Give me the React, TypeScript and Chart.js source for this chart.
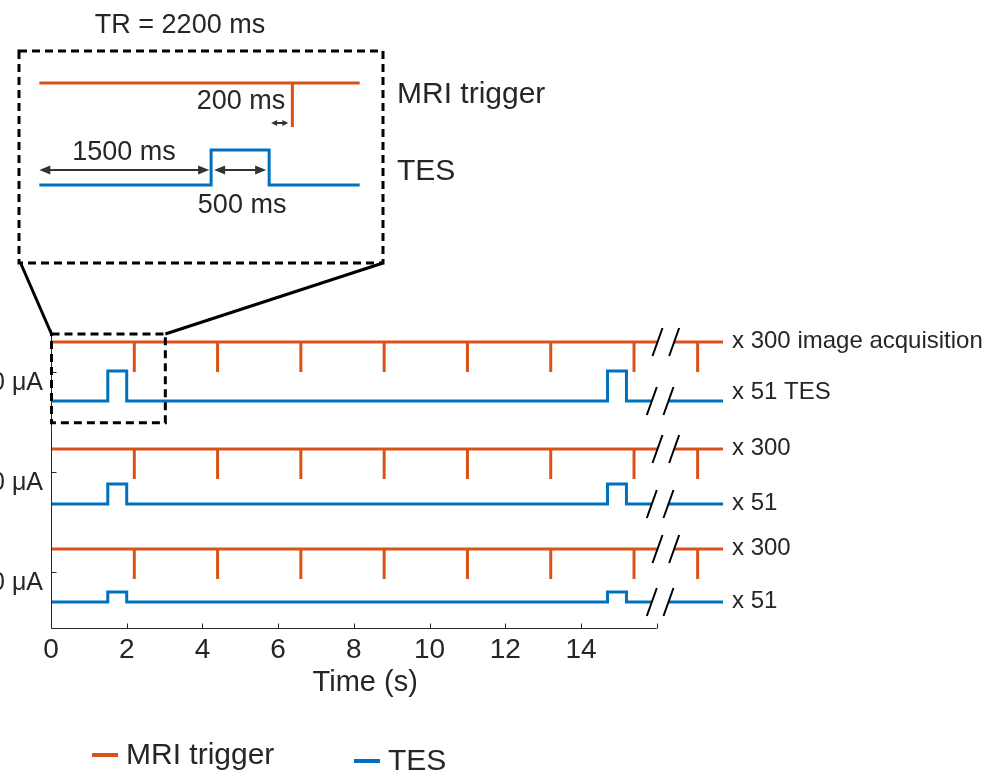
import React, { useEffect, useRef } from 'react';
import { Chart, registerables } from 'chart.js';

Chart.register(...registerables);

// ---- protocol timing (seconds) ----
const TRIGGER_TIMES_S = [2.2, 4.4, 6.6, 8.8, 11.0, 13.2, 15.4, 17.08];
const TES_ONSETS_S = [1.5, 14.7];
const TES_DURATION_S = 0.5;
const TRACE_END_S = 17.75;
const AXIS_END_S = 16;

// where each trace is interrupted by the "//" break
const TRIGGER_BREAK_S = [16.02, 16.46];
const TES_BREAK_S = [15.87, 16.31];

// stimulation intensity of the three rows, top to bottom
const TES_AMPLITUDE_UA = [1500, 1000, 500];
const TRIGGER_REPEATS = [300, 300, 300];
const TES_REPEATS = [51, 51, 51];

// baseline levels of each row in axis units
const TRIGGER_LEVELS = [28.6, 17.9, 7.9];
const TES_LEVELS = [22.7, 12.4, 2.6];
const ROW_TICKS = [25.6, 15.6, 5.6];
const TRIGGER_DEPTH = 3.0;
const UA_PER_UNIT = 500;
const Y_MAX = 29.8;

const X_TICKS = [0, 2, 4, 6, 8, 10, 12, 14, 16];
const X_TICK_LABELS = ['0', '2', '4', '6', '8', '10', '12', '14', ''];

// region of the main plot shown enlarged in the inset
const ZOOM_WINDOW_S = [0, 3.02];
const ZOOM_WINDOW_Y = [20.53, 29.4];

// inset (one TR enlarged)
const INSET_WINDOW_S = [0.02, 2.78];
const INSET_X_MAX = 2.8;
const INSET_Y_MAX = 21.3;
const INSET_TRIGGER_LEVEL = 18.0;
const INSET_TRIGGER_DEPTH = 4.4;
const INSET_TES_LEVEL = 7.8;
const INSET_TES_HEIGHT = 3.5;

const ORANGE = '#D95319';
const BLUE = '#0072BD';
const INK = '#262626';
const FONT = '"Liberation Sans", Arial, Helvetica, sans-serif';

type Pt = { x: number; y: number | null };

function triggerTrace(level: number, depth: number, start: number, end: number, gap?: number[]): Pt[] {
  const pts: Pt[] = [{ x: start, y: level }];
  const spikes = (from: number, to: number) =>
    TRIGGER_TIMES_S.filter((t) => t > from && t < to).forEach((t) =>
      pts.push({ x: t, y: level }, { x: t, y: level - depth }, { x: t, y: level })
    );
  if (gap) {
    spikes(start, gap[0]);
    pts.push({ x: gap[0], y: level }, { x: (gap[0] + gap[1]) / 2, y: null }, { x: gap[1], y: level });
    spikes(gap[1], end);
  } else {
    spikes(start, end);
  }
  pts.push({ x: end, y: level });
  return pts;
}

function tesTrace(level: number, height: number, start: number, end: number, gap?: number[]): Pt[] {
  const pts: Pt[] = [{ x: start, y: level }];
  const pulses = (from: number, to: number) =>
    TES_ONSETS_S.filter((t) => t >= from && t + TES_DURATION_S < to).forEach((t) =>
      pts.push(
        { x: t, y: level },
        { x: t, y: level + height },
        { x: t + TES_DURATION_S, y: level + height },
        { x: t + TES_DURATION_S, y: level }
      )
    );
  if (gap) {
    pulses(start, gap[0]);
    pts.push({ x: gap[0], y: level }, { x: (gap[0] + gap[1]) / 2, y: null }, { x: gap[1], y: level });
    pulses(gap[1], end);
  } else {
    pulses(start, end);
  }
  pts.push({ x: end, y: level });
  return pts;
}

function text(ctx: CanvasRenderingContext2D, s: string, x: number, y: number, size: number, align: CanvasTextAlign) {
  ctx.font = `${size}px ${FONT}`;
  ctx.fillStyle = INK;
  ctx.textAlign = align;
  ctx.textBaseline = 'middle';
  ctx.fillText(s, x, y);
}

function doubleArrow(ctx: CanvasRenderingContext2D, x1: number, x2: number, y: number, head: number, half: number) {
  ctx.strokeStyle = '#333333';
  ctx.fillStyle = '#333333';
  ctx.lineWidth = 2;
  ctx.setLineDash([]);
  ctx.beginPath();
  ctx.moveTo(x1 + head * 0.8, y);
  ctx.lineTo(x2 - head * 0.8, y);
  ctx.stroke();
  ctx.beginPath();
  ctx.moveTo(x1, y);
  ctx.lineTo(x1 + head, y - half);
  ctx.lineTo(x1 + head, y + half);
  ctx.closePath();
  ctx.moveTo(x2, y);
  ctx.lineTo(x2 - head, y - half);
  ctx.lineTo(x2 - head, y + half);
  ctx.closePath();
  ctx.fill();
}

const mainDecor = {
  id: 'mainDecor',
  afterDraw(chart: any) {
    const { ctx, chartArea: a, scales } = chart;
    const x = scales.x;
    const y = scales.y;
    ctx.save();

    // axis lines with inward ticks
    const x0 = Math.round(x.getPixelForValue(0)) + 0.5;
    const yb = Math.round(a.bottom) + 0.5;
    ctx.strokeStyle = INK;
    ctx.lineWidth = 1;
    ctx.setLineDash([]);
    ctx.beginPath();
    ctx.moveTo(x0, a.top);
    ctx.lineTo(x0, yb);
    ctx.lineTo(x.getPixelForValue(AXIS_END_S), yb);
    X_TICKS.forEach((v) => {
      const px = Math.round(x.getPixelForValue(v)) + 0.5;
      ctx.moveTo(px, yb);
      ctx.lineTo(px, yb - 5);
    });
    ROW_TICKS.forEach((v) => {
      const py = Math.round(y.getPixelForValue(v)) + 0.5;
      ctx.moveTo(x0, py);
      ctx.lineTo(x0 + 5, py);
    });
    ctx.stroke();

    // axis break marks
    ctx.strokeStyle = '#000';
    ctx.lineWidth = 2;
    ctx.beginPath();
    const slash = (t: number, level: number) => {
      const cx = x.getPixelForValue(t);
      const cy = y.getPixelForValue(level);
      ctx.moveTo(cx - 5, cy + 14);
      ctx.lineTo(cx + 5, cy - 14);
    };
    TRIGGER_LEVELS.forEach((lv) => TRIGGER_BREAK_S.forEach((t) => slash(t, lv)));
    TES_LEVELS.forEach((lv) => TES_BREAK_S.forEach((t) => slash(t, lv)));
    ctx.stroke();

    // zoom window and the inset frame it links to
    const zl = x.getPixelForValue(ZOOM_WINDOW_S[0]) + 0.5;
    const zr = x.getPixelForValue(ZOOM_WINDOW_S[1]);
    const zt = y.getPixelForValue(ZOOM_WINDOW_Y[1]);
    const zb = y.getPixelForValue(ZOOM_WINDOW_Y[0]);
    const frame = { l: 19, t: 51, r: 383, b: 263 };
    ctx.strokeStyle = '#000';
    ctx.lineWidth = 3;
    ctx.setLineDash([8, 5]);
    ctx.strokeRect(zl, zt, zr - zl, zb - zt);
    ctx.strokeRect(frame.l, frame.t, frame.r - frame.l, frame.b - frame.t);
    ctx.setLineDash([]);
    ctx.beginPath();
    ctx.moveTo(frame.l + 2, frame.b + 1);
    ctx.lineTo(zl, zt);
    ctx.moveTo(frame.r, frame.b);
    ctx.lineTo(zr, zt);
    ctx.stroke();

    // repetition counts at the end of each trace
    const xr = x.getPixelForValue(TRACE_END_S) + 9;
    TRIGGER_LEVELS.forEach((lv, r) => {
      const label = r === 0 ? `x ${TRIGGER_REPEATS[r]} image acquisition` : `x ${TRIGGER_REPEATS[r]}`;
      text(ctx, label, xr, y.getPixelForValue(lv) - 1, 24, 'left');
    });
    TES_LEVELS.forEach((lv, r) => {
      const label = r === 0 ? `x ${TES_REPEATS[r]} TES` : `x ${TES_REPEATS[r]}`;
      text(ctx, label, xr, y.getPixelForValue(lv) - (r === 0 ? 9 : 1), 24, 'left');
    });

    // x axis title
    text(ctx, 'Time (s)', x.getPixelForValue(8.3), 683, 29, 'center');

    // legend
    const seen: string[] = [];
    const entries: { label: string; color: string }[] = [];
    chart.data.datasets.forEach((ds: any) => {
      if (!seen.includes(ds.label)) {
        seen.push(ds.label);
        entries.push({ label: ds.label, color: ds.borderColor });
      }
    });
    const slots = [
      { x: 92, y: 755 },
      { x: 354, y: 761 },
    ];
    entries.forEach((e, i) => {
      const s = slots[i];
      ctx.strokeStyle = e.color;
      ctx.lineWidth = 4;
      ctx.beginPath();
      ctx.moveTo(s.x, s.y);
      ctx.lineTo(s.x + 26, s.y);
      ctx.stroke();
      text(ctx, e.label, s.x + 34, s.y + 1, 30, 'left');
    });

    ctx.restore();
  },
};

const insetDecor = {
  id: 'insetDecor',
  afterDraw(chart: any) {
    const { ctx, scales } = chart;
    const x = scales.x;
    const y = scales.y;
    const trigger = TRIGGER_TIMES_S[0];
    const onset = TES_ONSETS_S[0];
    const offset = onset + TES_DURATION_S;
    const trMs = Math.round((TRIGGER_TIMES_S[1] - TRIGGER_TIMES_S[0]) * 1000);
    const onsetMs = Math.round(onset * 1000);
    const durMs = Math.round(TES_DURATION_S * 1000);
    const lagMs = Math.round((trigger - offset) * 1000);
    ctx.save();

    const yLong = y.getPixelForValue(9.3);
    const yShort = y.getPixelForValue(14.0);
    doubleArrow(ctx, x.getPixelForValue(INSET_WINDOW_S[0]), x.getPixelForValue(onset) - 2, yLong, 11, 4.5);
    doubleArrow(ctx, x.getPixelForValue(onset) + 3, x.getPixelForValue(offset) - 3, yLong, 11, 4.5);
    doubleArrow(ctx, x.getPixelForValue(offset) + 2, x.getPixelForValue(trigger) - 4, yShort, 6, 3);

    text(ctx, `TR = ${trMs} ms`, 180, 26, 27, 'center');
    text(ctx, `${lagMs} ms`, x.getPixelForValue(trigger) - 7, 102, 27, 'right');
    text(ctx, `${onsetMs} ms`, x.getPixelForValue(onset / 2), 153, 27, 'center');
    text(ctx, `${durMs} ms`, x.getPixelForValue(onset + TES_DURATION_S / 2) + 2, 206, 27, 'center');
    text(ctx, 'MRI trigger', 397, 95, 30, 'left');
    text(ctx, 'TES', 397, 172, 30, 'left');
    ctx.restore();
  },
};

function lineDataset(label: string, color: string, data: Pt[]) {
  return {
    label,
    data,
    borderColor: color,
    backgroundColor: color,
    borderWidth: 3,
    pointRadius: 0,
    tension: 0,
    fill: false,
    spanGaps: false,
    borderCapStyle: 'butt' as const,
    borderJoinStyle: 'miter' as const,
  };
}

export default function App() {
  const mainRef = useRef<HTMLCanvasElement>(null);
  const insetRef = useRef<HTMLCanvasElement>(null);

  useEffect(() => {
    const datasets: any[] = [];
    TRIGGER_LEVELS.forEach((lv, r) => {
      datasets.push(lineDataset('MRI trigger', ORANGE, triggerTrace(lv, TRIGGER_DEPTH, 0, TRACE_END_S, TRIGGER_BREAK_S)));
      datasets.push(
        lineDataset('TES', BLUE, tesTrace(TES_LEVELS[r], TES_AMPLITUDE_UA[r] / UA_PER_UNIT, 0, TRACE_END_S, TES_BREAK_S))
      );
    });

    const main = new Chart(mainRef.current as HTMLCanvasElement, {
      type: 'line',
      data: { datasets },
      options: {
        animation: false,
        responsive: false,
        maintainAspectRatio: false,
        events: [],
        layout: { padding: { top: 330, right: 268, bottom: 0, left: 0 } },
        plugins: { legend: { display: false }, tooltip: { enabled: false } },
        scales: {
          x: {
            type: 'linear',
            min: 0,
            max: TRACE_END_S,
            bounds: 'data',
            afterBuildTicks: (s: any) => {
              s.ticks = X_TICKS.map((v) => ({ value: v }));
            },
            afterFit: (s: any) => {
              s.height = 146;
            },
            grid: { display: false, drawTicks: false },
            border: { display: false },
            ticks: {
              autoSkip: false,
              maxRotation: 0,
              padding: 5,
              color: INK,
              font: { family: FONT, size: 28 },
              callback: (v: any) => X_TICK_LABELS[X_TICKS.indexOf(Number(v))] ?? '',
            },
          },
          y: {
            type: 'linear',
            min: 0,
            max: Y_MAX,
            bounds: 'data',
            afterBuildTicks: (s: any) => {
              s.ticks = [...ROW_TICKS].sort((p, q) => p - q).map((v) => ({ value: v }));
            },
            afterFit: (s: any) => {
              s.width = 51;
            },
            grid: { display: false, drawTicks: false },
            border: { display: false },
            ticks: {
              autoSkip: false,
              padding: 8,
              labelOffset: 11,
              color: INK,
              font: { family: FONT, size: 25 },
              callback: (v: any) => {
                const r = ROW_TICKS.indexOf(Number(v));
                return r >= 0 ? `${TES_AMPLITUDE_UA[r]} μA` : '';
              },
            },
          },
        },
      },
      plugins: [mainDecor],
    } as any);

    const inset = new Chart(insetRef.current as HTMLCanvasElement, {
      type: 'line',
      data: {
        datasets: [
          lineDataset(
            'MRI trigger',
            ORANGE,
            triggerTrace(INSET_TRIGGER_LEVEL, INSET_TRIGGER_DEPTH, INSET_WINDOW_S[0], INSET_WINDOW_S[1])
          ),
          lineDataset('TES', BLUE, tesTrace(INSET_TES_LEVEL, INSET_TES_HEIGHT, INSET_WINDOW_S[0], INSET_WINDOW_S[1])),
        ],
      },
      options: {
        animation: false,
        responsive: false,
        maintainAspectRatio: false,
        events: [],
        layout: { padding: { top: 50, right: 629, bottom: 37, left: 37 } },
        plugins: { legend: { display: false }, tooltip: { enabled: false } },
        scales: {
          x: { type: 'linear', min: 0, max: INSET_X_MAX, display: false },
          y: { type: 'linear', min: 0, max: INSET_Y_MAX, display: false },
        },
      },
      plugins: [insetDecor],
    } as any);

    return () => {
      main.destroy();
      inset.destroy();
    };
  }, []);

  return (
    <div style={{ position: 'absolute', left: 0, top: 0, width: 991, height: 774, background: '#ffffff', overflow: 'hidden' }}>
      <canvas ref={mainRef} width={991} height={774} style={{ position: 'absolute', left: 0, top: 0 }} />
      <canvas ref={insetRef} width={991} height={300} style={{ position: 'absolute', left: 0, top: 0 }} />
    </div>
  );
}
